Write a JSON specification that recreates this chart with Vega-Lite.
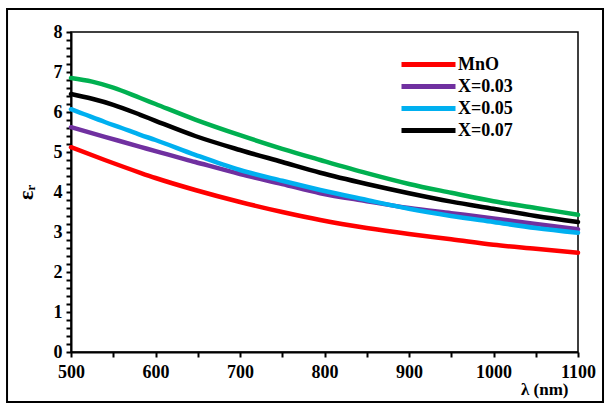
{
  "$schema": "https://vega.github.io/schema/vega-lite/v6.json",
  "width": 507,
  "height": 320,
  "autosize": {"type": "none"},
  "padding": {"left": 71, "top": 32, "right": 28, "bottom": 53},
  "background": "white",
  "config": {
    "view": {"stroke": "black", "strokeWidth": 1.5},
    "font": "Liberation Serif"
  },
  "datasets": {
    "curves": [
      {"lambda": 500, "eps": 5.12, "series": "MnO"},
      {"lambda": 540, "eps": 4.8, "series": "MnO"},
      {"lambda": 582, "eps": 4.48, "series": "MnO"},
      {"lambda": 600, "eps": 4.35, "series": "MnO"},
      {"lambda": 647, "eps": 4.05, "series": "MnO"},
      {"lambda": 700, "eps": 3.75, "series": "MnO"},
      {"lambda": 750, "eps": 3.5, "series": "MnO"},
      {"lambda": 795, "eps": 3.3, "series": "MnO"},
      {"lambda": 850, "eps": 3.1, "series": "MnO"},
      {"lambda": 900, "eps": 2.95, "series": "MnO"},
      {"lambda": 950, "eps": 2.82, "series": "MnO"},
      {"lambda": 1000, "eps": 2.68, "series": "MnO"},
      {"lambda": 1050, "eps": 2.58, "series": "MnO"},
      {"lambda": 1100, "eps": 2.48, "series": "MnO"},
      {"lambda": 500, "eps": 5.62, "series": "X=0.03"},
      {"lambda": 540, "eps": 5.38, "series": "X=0.03"},
      {"lambda": 582, "eps": 5.13, "series": "X=0.03"},
      {"lambda": 600, "eps": 5.02, "series": "X=0.03"},
      {"lambda": 647, "eps": 4.75, "series": "X=0.03"},
      {"lambda": 700, "eps": 4.45, "series": "X=0.03"},
      {"lambda": 750, "eps": 4.2, "series": "X=0.03"},
      {"lambda": 795, "eps": 3.97, "series": "X=0.03"},
      {"lambda": 850, "eps": 3.77, "series": "X=0.03"},
      {"lambda": 900, "eps": 3.6, "series": "X=0.03"},
      {"lambda": 950, "eps": 3.47, "series": "X=0.03"},
      {"lambda": 1000, "eps": 3.34, "series": "X=0.03"},
      {"lambda": 1050, "eps": 3.2, "series": "X=0.03"},
      {"lambda": 1100, "eps": 3.07, "series": "X=0.03"},
      {"lambda": 500, "eps": 6.07, "series": "X=0.05"},
      {"lambda": 515, "eps": 5.95, "series": "X=0.05"},
      {"lambda": 540, "eps": 5.75, "series": "X=0.05"},
      {"lambda": 560, "eps": 5.6, "series": "X=0.05"},
      {"lambda": 582, "eps": 5.43, "series": "X=0.05"},
      {"lambda": 600, "eps": 5.3, "series": "X=0.05"},
      {"lambda": 647, "eps": 4.93, "series": "X=0.05"},
      {"lambda": 700, "eps": 4.55, "series": "X=0.05"},
      {"lambda": 750, "eps": 4.28, "series": "X=0.05"},
      {"lambda": 795, "eps": 4.05, "series": "X=0.05"},
      {"lambda": 850, "eps": 3.8, "series": "X=0.05"},
      {"lambda": 900, "eps": 3.58, "series": "X=0.05"},
      {"lambda": 950, "eps": 3.4, "series": "X=0.05"},
      {"lambda": 1000, "eps": 3.25, "series": "X=0.05"},
      {"lambda": 1050, "eps": 3.1, "series": "X=0.05"},
      {"lambda": 1100, "eps": 2.98, "series": "X=0.05"},
      {"lambda": 500, "eps": 6.45, "series": "X=0.07"},
      {"lambda": 525, "eps": 6.33, "series": "X=0.07"},
      {"lambda": 550, "eps": 6.18, "series": "X=0.07"},
      {"lambda": 582, "eps": 5.93, "series": "X=0.07"},
      {"lambda": 600, "eps": 5.78, "series": "X=0.07"},
      {"lambda": 647, "eps": 5.4, "series": "X=0.07"},
      {"lambda": 700, "eps": 5.05, "series": "X=0.07"},
      {"lambda": 750, "eps": 4.75, "series": "X=0.07"},
      {"lambda": 795, "eps": 4.48, "series": "X=0.07"},
      {"lambda": 850, "eps": 4.2, "series": "X=0.07"},
      {"lambda": 900, "eps": 3.97, "series": "X=0.07"},
      {"lambda": 950, "eps": 3.76, "series": "X=0.07"},
      {"lambda": 1000, "eps": 3.58, "series": "X=0.07"},
      {"lambda": 1050, "eps": 3.4, "series": "X=0.07"},
      {"lambda": 1100, "eps": 3.25, "series": "X=0.07"},
      {"lambda": 500, "eps": 6.85, "series": "X=0.10"},
      {"lambda": 525, "eps": 6.76, "series": "X=0.10"},
      {"lambda": 550, "eps": 6.61, "series": "X=0.10"},
      {"lambda": 582, "eps": 6.35, "series": "X=0.10"},
      {"lambda": 600, "eps": 6.2, "series": "X=0.10"},
      {"lambda": 647, "eps": 5.81, "series": "X=0.10"},
      {"lambda": 700, "eps": 5.42, "series": "X=0.10"},
      {"lambda": 750, "eps": 5.08, "series": "X=0.10"},
      {"lambda": 795, "eps": 4.8, "series": "X=0.10"},
      {"lambda": 850, "eps": 4.47, "series": "X=0.10"},
      {"lambda": 900, "eps": 4.2, "series": "X=0.10"},
      {"lambda": 950, "eps": 3.98, "series": "X=0.10"},
      {"lambda": 1000, "eps": 3.77, "series": "X=0.10"},
      {"lambda": 1050, "eps": 3.6, "series": "X=0.10"},
      {"lambda": 1100, "eps": 3.43, "series": "X=0.10"}
    ]
  },
  "layer": [
    {
      "data": {"name": "curves"},
      "mark": {"type": "line", "strokeWidth": 4.5, "interpolate": "monotone", "strokeCap": "round"},
      "encoding": {
        "x": {
          "field": "lambda",
          "type": "quantitative",
          "scale": {"domain": [500, 1100], "nice": false, "zero": false},
          "axis": {
            "title": "λ (nm)",
            "values": [500, 550, 600, 650, 700, 750, 800, 850, 900, 950, 1000, 1050, 1100],
            "labelExpr": "datum.value % 100 == 0 ? datum.label : ''",
            "format": "d",
            "labelFont": "Liberation Serif",
            "labelFontWeight": "bold",
            "labelFontSize": 18,
            "labelColor": "black",
            "labelPadding": 6,
            "labelOverlap": false,
            "labelFlush": false,
            "tickColor": "black",
            "tickSize": 5,
            "tickWidth": 2,
            "domainColor": "black",
            "domainWidth": 2,
            "grid": false,
            "titleFont": "Liberation Serif",
            "titleFontWeight": "bold",
            "titleFontSize": 17,
            "titleColor": "black",
            "titleAnchor": "end",
            "titleAlign": "right",
            "titleX": 497,
            "titlePadding": 0
          }
        },
        "y": {
          "field": "eps",
          "type": "quantitative",
          "scale": {"domain": [0, 8], "nice": false, "zero": false},
          "axis": {
            "title": "εᵣ",
            "values": [0, 0.2, 0.4, 0.6, 0.8, 1, 1.2, 1.4, 1.6, 1.8, 2, 2.2, 2.4, 2.6, 2.8, 3, 3.2, 3.4, 3.6, 3.8, 4, 4.2, 4.4, 4.6, 4.8, 5, 5.2, 5.4, 5.6, 5.8, 6, 6.2, 6.4, 6.6, 6.8, 7, 7.2, 7.4, 7.6, 7.8, 8],
            "labelExpr": "abs(datum.value - round(datum.value)) < 0.01 ? format(datum.value, 'd') : ''",
            "labelFont": "Liberation Serif",
            "labelFontWeight": "bold",
            "labelFontSize": 18,
            "labelColor": "black",
            "labelPadding": 4,
            "labelOverlap": false,
            "labelFlush": false,
            "tickColor": "black",
            "tickSize": 5,
            "tickWidth": 2,
            "domainColor": "black",
            "domainWidth": 2,
            "grid": false,
            "titleFont": "Liberation Serif",
            "titleFontWeight": "bold",
            "titleFontSize": 22,
            "titleColor": "black",
            "titlePadding": 16
          }
        },
        "color": {
          "field": "series",
          "type": "nominal",
          "sort": null,
          "scale": {
            "domain": ["MnO", "X=0.03", "X=0.05", "X=0.07", "X=0.10"],
            "range": ["#FF0000", "#7030A0", "#00B0F0", "#000000", "#00B050"]
          },
          "legend": {
            "values": ["MnO", "X=0.03", "X=0.05", "X=0.07"],
            "orient": "none",
            "legendX": 328,
            "legendY": 21,
            "title": null,
            "symbolType": "M-1,0H5",
            "symbolSize": 324,
            "symbolStrokeWidth": 5,
            "labelFont": "Liberation Serif",
            "labelFontWeight": "bold",
            "labelFontSize": 18,
            "labelColor": "black",
            "labelOffset": 36,
            "rowPadding": -4
          }
        }
      }
    },
    {
      "data": {"values": [{}]},
      "mark": {"type": "rect", "fill": null, "stroke": "black", "strokeWidth": 2, "clip": false},
      "encoding": {
        "x": {
          "datum": 424.3,
          "type": "quantitative",
          "scale": {"domain": [500, 1100], "nice": false, "zero": false},
          "axis": {
            "title": "λ (nm)",
            "values": [500, 550, 600, 650, 700, 750, 800, 850, 900, 950, 1000, 1050, 1100],
            "labelExpr": "datum.value % 100 == 0 ? datum.label : ''",
            "format": "d",
            "labelFont": "Liberation Serif",
            "labelFontWeight": "bold",
            "labelFontSize": 18,
            "labelColor": "black",
            "labelPadding": 6,
            "labelOverlap": false,
            "labelFlush": false,
            "tickColor": "black",
            "tickSize": 5,
            "tickWidth": 2,
            "domainColor": "black",
            "domainWidth": 2,
            "grid": false,
            "titleFont": "Liberation Serif",
            "titleFontWeight": "bold",
            "titleFontSize": 17,
            "titleColor": "black",
            "titleAnchor": "end",
            "titleAlign": "right",
            "titleX": 497,
            "titlePadding": 0
          }
        },
        "x2": {"datum": 1129.6},
        "y": {
          "datum": -1.25,
          "type": "quantitative",
          "scale": {"domain": [0, 8], "nice": false, "zero": false},
          "axis": {
            "title": "εᵣ",
            "values": [0, 0.2, 0.4, 0.6, 0.8, 1, 1.2, 1.4, 1.6, 1.8, 2, 2.2, 2.4, 2.6, 2.8, 3, 3.2, 3.4, 3.6, 3.8, 4, 4.2, 4.4, 4.6, 4.8, 5, 5.2, 5.4, 5.6, 5.8, 6, 6.2, 6.4, 6.6, 6.8, 7, 7.2, 7.4, 7.6, 7.8, 8],
            "labelExpr": "abs(datum.value - round(datum.value)) < 0.01 ? format(datum.value, 'd') : ''",
            "labelFont": "Liberation Serif",
            "labelFontWeight": "bold",
            "labelFontSize": 18,
            "labelColor": "black",
            "labelPadding": 4,
            "labelOverlap": false,
            "labelFlush": false,
            "tickColor": "black",
            "tickSize": 5,
            "tickWidth": 2,
            "domainColor": "black",
            "domainWidth": 2,
            "grid": false,
            "titleFont": "Liberation Serif",
            "titleFontWeight": "bold",
            "titleFontSize": 22,
            "titleColor": "black",
            "titlePadding": 16
          }
        },
        "y2": {"datum": 8.575}
      }
    }
  ]
}
